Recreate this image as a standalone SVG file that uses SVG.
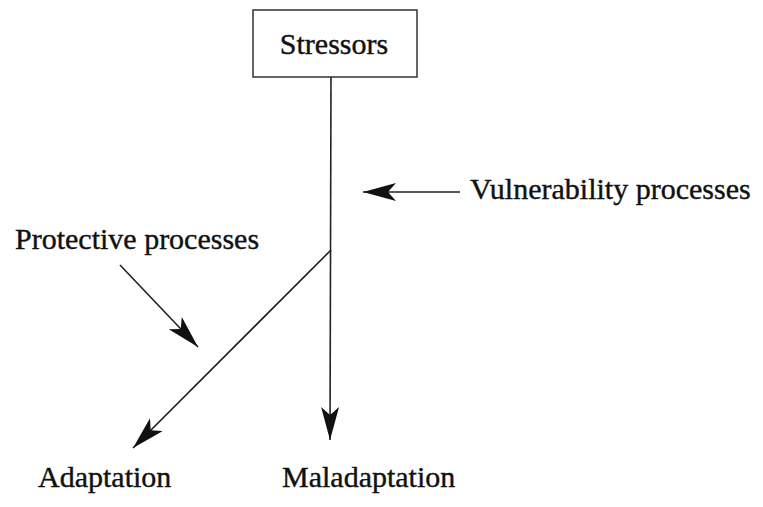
<svg xmlns="http://www.w3.org/2000/svg" width="763" height="507" viewBox="0 0 763 507">
<style>
text{font-family:"Liberation Serif","Times New Roman",serif;font-size:30px;fill:#111;stroke:#111;stroke-width:0.4}
.ln{stroke:#222;stroke-width:1.6;fill:none}
</style>
<defs>
<marker id="ah" markerUnits="userSpaceOnUse" markerWidth="36" markerHeight="20" refX="33" refY="9" orient="auto">
<path d="M0,0 L33,9 L0,18 L8,9 Z" fill="#111"/>
</marker>
</defs>
<rect width="763" height="507" fill="#fff"/>
<g id="stressors">
<rect x="253" y="10" width="164" height="67" fill="#fff" stroke="#333" stroke-width="1.5"/>
<text x="334" y="54" text-anchor="middle">Stressors</text>
</g>
<g id="vulnerability"><text x="470" y="199">Vulnerability processes</text></g>
<g id="protective"><text x="15" y="249">Protective processes</text></g>
<g id="adaptation"><text x="38" y="487">Adaptation</text></g>
<g id="maladaptation"><text x="282" y="487">Maladaptation</text></g>
<g id="connectors">
<line class="ln" x1="331" y1="77" x2="330" y2="440" marker-end="url(#ah)"/>
<line class="ln" x1="331" y1="250" x2="133" y2="448" marker-end="url(#ah)"/>
<line class="ln" x1="460" y1="192" x2="363" y2="192" marker-end="url(#ah)"/>
<line class="ln" x1="120" y1="265" x2="198" y2="347" marker-end="url(#ah)"/>
</g>
</svg>
